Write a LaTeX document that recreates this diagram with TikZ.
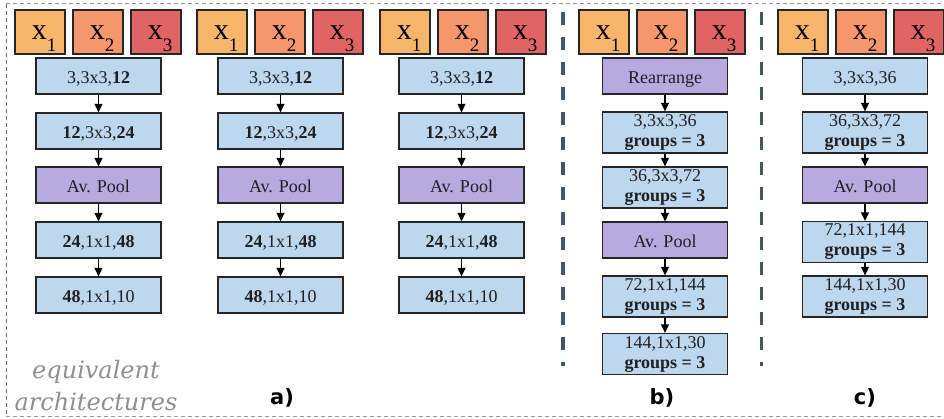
\documentclass[tikz,border=0pt]{standalone}
\usepackage{fontspec}
\setmainfont{Liberation Serif}
\newfontfamily\labfont{DejaVu Sans}
\newfontfamily\eqfont{DejaVu Serif}
\usetikzlibrary{arrows.meta}
\definecolor{cxone}{RGB}{247,180,107}
\definecolor{cxtwo}{RGB}{245,150,108}
\definecolor{cxthree}{RGB}{224,100,100}
\definecolor{cblue}{RGB}{189,215,238}
\definecolor{cpurple}{RGB}{182,170,225}
\definecolor{csep}{RGB}{68,84,106}
\definecolor{cborder}{RGB}{150,155,165}
\definecolor{cleft}{RGB}{95,108,130}
\tikzset{
 box/.style={draw=black!85, line width=1.3pt, minimum width=125pt, minimum height=36pt, inner sep=0pt, font=\fontsize{18}{20}\selectfont, align=center, text=black!88},
 conv/.style={box, fill=cblue, text height=16.5pt, text depth=2pt},
 gconv/.style={box, fill=cblue, minimum height=41pt},
 pool/.style={box, fill=cpurple, text height=16.5pt, text depth=2pt},
 xbox/.style={draw=black!85, line width=1.3pt, minimum width=50pt, minimum height=44pt, inner sep=0pt},
 xlab/.style={anchor=base, inner sep=0pt, font=\fontsize{30}{30}\selectfont},
 arr/.style={-{Triangle[length=8.5pt,width=8pt]}, line width=1.2pt},
 sepline/.style={draw=csep, line width=3.5pt, dash pattern=on 13pt off 12pt},
 lab/.style={anchor=base, inner sep=0pt, font=\labfont\bfseries\fontsize{21}{21}\selectfont}
}
\newcommand{\xsub}[1]{x\raisebox{-12pt}{\fontsize{19}{19}\selectfont #1}}
\begin{document}
\begin{tikzpicture}[x=1pt,y=-1pt]
\useasboundingbox (0,0) rectangle (944,419);
% outer border
\draw[cleft, line width=1pt, dash pattern=on 4pt off 3pt] (6,4) -- (6,416);
\draw[cborder, line width=1pt, dash pattern=on 4pt off 3pt] (6,4) -- (944,4);
\draw[cborder, line width=1pt, dash pattern=on 4pt off 3pt] (6,416) -- (944,416);
% separators
\draw[sepline] (563,12) -- (563,366);
\draw[sepline] (761.5,12) -- (761.5,366);
% input boxes
\foreach \col/\s in {a/15, b/197, c/380, d/579, e/778} {
 \node[xbox, fill=cxone] (\col x1) at (\s+25,32) {};
 \node[xbox, fill=cxtwo] (\col x2) at (\s+83,32) {};
 \node[xbox, fill=cxthree] (\col x3) at (\s+141,32) {};
 \node[xlab] (\col t1) at (\s+29,40) {\xsub{1}};
 \node[xlab] (\col t2) at (\s+87,40) {\xsub{2}};
 \node[xlab] (\col t3) at (\s+145,40) {\xsub{3}};
}
% three equivalent architectures
\foreach \col/\cx in {a/98.5, b/280.5, c/461.5} {
 \node[conv] (\col1) at (\cx,76) {3,3x3,\textbf{12}};
 \node[conv] (\col2) at (\cx,131) {\textbf{12},3x3,\textbf{24}};
 \node[pool] (\col3) at (\cx,185) {Av. Pool};
 \node[conv] (\col4) at (\cx,240) {\textbf{24},1x1,\textbf{48}};
 \node[conv] (\col5) at (\cx,295) {\textbf{48},1x1,10};
 \draw[arr] (\col1) -- (\col2);
 \draw[arr] (\col2) -- (\col3);
 \draw[arr] (\col3) -- (\col4);
 \draw[arr] (\col4) -- (\col5);
}
% b)
\node[pool] (d1) at (665,76) {Rearrange};
\node[gconv] (d2) at (665,132.5) {3,3x3,36\\\textbf{groups = 3}};
\node[gconv] (d3) at (665,187.5) {36,3x3,72\\\textbf{groups = 3}};
\node[pool] (d4) at (665,240) {Av. Pool};
\node[gconv] (d5) at (665,296.5) {72,1x1,144\\\textbf{groups = 3}};
\node[gconv] (d6) at (665,354) {144,1x1,30\\\textbf{groups = 3}};
\draw[arr] (d1) -- (d2);
\draw[arr] (d2) -- (d3);
\draw[arr] (d3) -- (d4);
\draw[arr] (d4) -- (d5);
\draw[arr] (d5) -- (d6);
% c)
\node[conv] (e1) at (865,76) {3,3x3,36};
\node[gconv] (e2) at (865,132.5) {36,3x3,72\\\textbf{groups = 3}};
\node[pool] (e3) at (865,185) {Av. Pool};
\node[gconv] (e4) at (865,242) {72,1x1,144\\\textbf{groups = 3}};
\node[gconv] (e5) at (865,296.5) {144,1x1,30\\\textbf{groups = 3}};
\draw[arr] (e1) -- (e2);
\draw[arr] (e2) -- (e3);
\draw[arr] (e3) -- (e4);
\draw[arr] (e4) -- (e5);
% labels
\node[font=\eqfont\itshape\fontsize{24}{32}\selectfont, text=black!44, align=center] (eq) at (96,386) {equivalent\\architectures};
\node[lab] (la) at (282,404) {a)};
\node[lab] (lb) at (662,404) {b)};
\node[lab] (lc) at (865,404) {c)};
\end{tikzpicture}
\end{document}
